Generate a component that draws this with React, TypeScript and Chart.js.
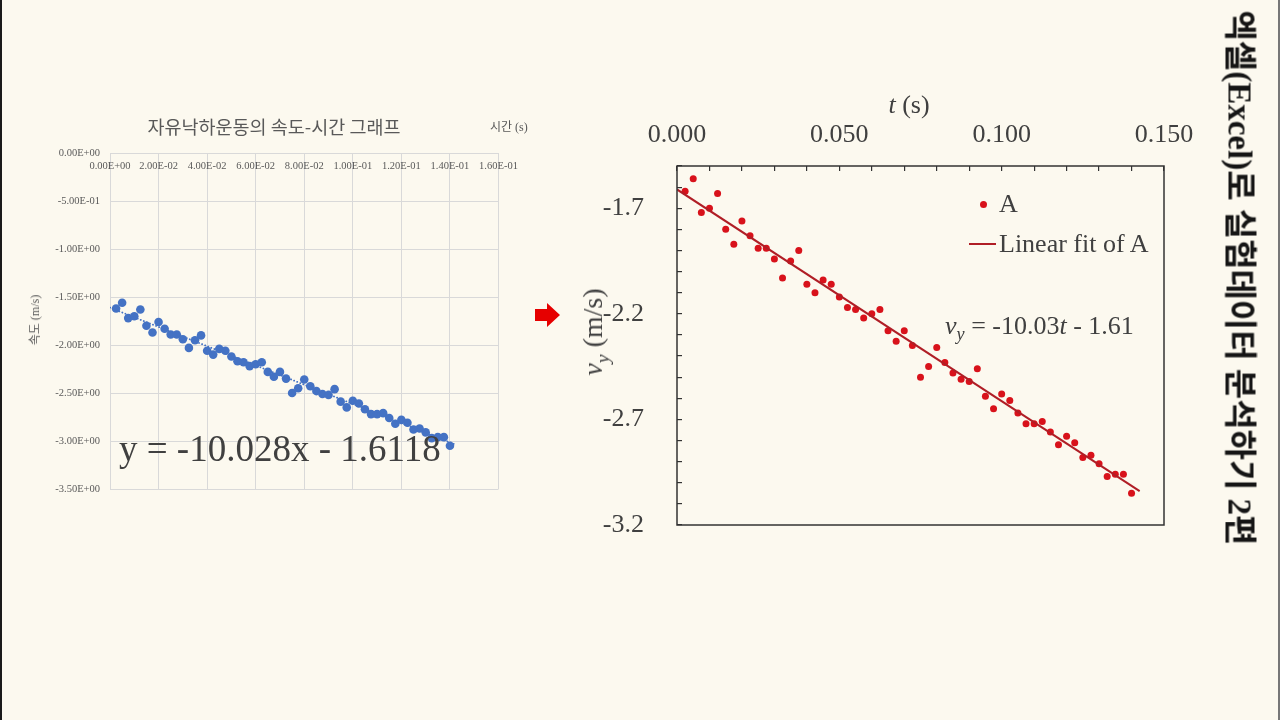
import React, { useEffect, useRef } from 'react';
import { Chart, registerables } from 'chart.js';

Chart.register(...registerables);

// ---- data ----
const timeValues = [
  0.0025, 0.005, 0.0075, 0.01, 0.0125, 0.015, 0.0175, 0.02, 0.0225, 0.025,
  0.0275, 0.03, 0.0325, 0.035, 0.0375, 0.04, 0.0425, 0.045, 0.0475, 0.05,
  0.0525, 0.055, 0.0575, 0.06, 0.0625, 0.065, 0.0675, 0.07, 0.0725, 0.075,
  0.0775, 0.08, 0.0825, 0.085, 0.0875, 0.09, 0.0925, 0.095, 0.0975, 0.1,
  0.1025, 0.105, 0.1075, 0.11, 0.1125, 0.115, 0.1175, 0.12, 0.1225, 0.125,
  0.1275, 0.13, 0.1325, 0.135, 0.1375, 0.14,
];
const velocityValues = [
  -1.62, -1.56, -1.72, -1.70, -1.63, -1.80, -1.87, -1.76, -1.83, -1.89,
  -1.89, -1.94, -2.03, -1.95, -1.90, -2.06, -2.10, -2.04, -2.06, -2.12,
  -2.17, -2.18, -2.22, -2.20, -2.18, -2.28, -2.33, -2.28, -2.35, -2.50,
  -2.45, -2.36, -2.43, -2.48, -2.51, -2.52, -2.46, -2.59, -2.65, -2.58,
  -2.61, -2.67, -2.72, -2.72, -2.71, -2.76, -2.82, -2.78, -2.81, -2.88,
  -2.87, -2.91, -2.97, -2.96, -2.96, -3.05,
];
// fitted line end points
const fitTimes = [0, 0.1425];
const fitVelocities = [-1.611, -3.040];

// ---- tick values ----
const excelXTicks = [0, 0.02, 0.04, 0.06, 0.08, 0.1, 0.12, 0.14, 0.16];
const excelYTicks = [0, -0.5, -1, -1.5, -2, -2.5, -3, -3.5];
const originXTicks = [0, 0.01, 0.02, 0.03, 0.04, 0.05, 0.06, 0.07, 0.08, 0.09, 0.1, 0.11, 0.12, 0.13, 0.14, 0.15];
const originXLabels = [0, 0.05, 0.1, 0.15];
const originYTicks = [-3.2, -3.1, -3.0, -2.9, -2.8, -2.7, -2.6, -2.5, -2.4, -2.3, -2.2, -2.1, -2.0, -1.9, -1.8, -1.7, -1.6, -1.5];
const originYLabels = [-3.2, -2.7, -2.2, -1.7];

const SERIF = "'Liberation Serif', 'Times New Roman', serif";
const KR = "'Liberation Serif', 'Noto Sans CJK KR', sans-serif";

function toExcelE(v: number): string {
  const s = (Math.abs(v) < 1e-12 ? 0 : v).toExponential(2);
  const [m, e] = s.split('e');
  const n = parseInt(e, 10);
  return `${m}E${n < 0 ? '-' : '+'}${String(Math.abs(n)).padStart(2, '0')}`;
}

const setTicks = (arr: number[]) => (scale: any) => {
  scale.ticks = arr.map((v) => ({ value: v }));
};
const isIn = (arr: number[], v: number) => arr.some((a) => Math.abs(a - v) < 1e-9);

const points = () => timeValues.map((t, i) => ({ x: t, y: velocityValues[i] }));
const fitPoints = () => fitTimes.map((t, i) => ({ x: t, y: fitVelocities[i] }));

function excelConfig(): any {
  return {
    type: 'scatter',
    data: {
      datasets: [
        {
          data: points(),
          backgroundColor: '#4472C4',
          borderColor: '#4472C4',
          pointRadius: 4.3,
          pointBorderWidth: 0,
          order: 1,
        },
        {
          data: fitPoints(),
          showLine: true,
          borderColor: '#4472C4',
          borderWidth: 1.8,
          borderDash: [0.1, 3.2],
          borderCapStyle: 'round',
          pointRadius: 0,
          order: 0,
        },
      ],
    },
    options: {
      animation: false,
      responsive: false,
      maintainAspectRatio: false,
      layout: { padding: { left: 0, top: 53, right: 43.5, bottom: 21 } },
      plugins: { legend: { display: false }, tooltip: { enabled: false }, title: { display: false } },
      scales: {
        x: {
          type: 'linear',
          position: 'top',
          min: 0,
          max: 0.16,
          afterBuildTicks: setTicks(excelXTicks),
          grid: { color: '#D9D9D9', lineWidth: 1, drawTicks: false },
          border: { display: false },
          ticks: {
            autoSkip: false,
            maxRotation: 0,
            minRotation: 0,
            mirror: true,
            padding: 7.4,
            color: '#595959',
            font: { family: SERIF, size: 10.5 },
            callback: (v: number) => toExcelE(v),
          },
          afterFit: (s: any) => {
            s.height = 0;
            s.paddingLeft = 0;
            s.paddingRight = 0;
          },
        },
        y: {
          type: 'linear',
          min: -3.5,
          max: 0,
          afterBuildTicks: setTicks(excelYTicks),
          grid: { color: '#D9D9D9', lineWidth: 1, drawTicks: false },
          border: { display: false },
          ticks: {
            autoSkip: false,
            padding: 10,
            color: '#595959',
            font: { family: SERIF, size: 10.5 },
            callback: (v: number) => toExcelE(v),
          },
          afterFit: (s: any) => {
            s.width = 98;
            s.paddingTop = 0;
            s.paddingBottom = 0;
          },
        },
      },
    },
  };
}

const framePlugin = {
  id: 'frame',
  afterDraw(chart: any) {
    const { ctx, chartArea } = chart;
    const { left, top, right, bottom } = chartArea;
    ctx.save();
    ctx.strokeStyle = '#333333';
    ctx.lineWidth = 1.5;
    ctx.strokeRect(left, top, right - left, bottom - top);
    ctx.restore();
  },
};

function originConfig(): any {
  return {
    type: 'scatter',
    data: {
      datasets: [
        {
          data: points(),
          backgroundColor: '#D8121B',
          borderColor: '#D8121B',
          pointRadius: 3.5,
          pointBorderWidth: 0,
          order: 1,
        },
        {
          data: fitPoints(),
          showLine: true,
          borderColor: '#B01E26',
          borderWidth: 2,
          pointRadius: 0,
          order: 0,
        },
      ],
    },
    plugins: [framePlugin],
    options: {
      animation: false,
      responsive: false,
      maintainAspectRatio: false,
      layout: { padding: { left: 0, top: 0, right: 58, bottom: 20 } },
      plugins: { legend: { display: false }, tooltip: { enabled: false }, title: { display: false } },
      scales: {
        x: {
          type: 'linear',
          position: 'top',
          min: 0,
          max: 0.15,
          afterBuildTicks: setTicks(originXTicks),
          grid: { drawOnChartArea: false, drawTicks: true, tickLength: -5, color: '#333333', lineWidth: 1.2 },
          border: { display: false },
          ticks: {
            autoSkip: false,
            maxRotation: 0,
            minRotation: 0,
            padding: 20,
            color: '#404040',
            font: { family: SERIF, size: 26 },
            callback: (v: number) => (isIn(originXLabels, v) ? v.toFixed(3) : ''),
          },
          afterFit: (s: any) => {
            s.height = 81;
            s.paddingLeft = 0;
            s.paddingRight = 0;
          },
        },
        y: {
          type: 'linear',
          min: -3.2,
          max: -1.5,
          afterBuildTicks: setTicks(originYTicks),
          grid: { drawOnChartArea: false, drawTicks: true, tickLength: -5, color: '#333333', lineWidth: 1.2 },
          border: { display: false },
          ticks: {
            autoSkip: false,
            padding: 38,
            color: '#404040',
            font: { family: SERIF, size: 26 },
            callback: (v: number) => (isIn(originYLabels, v) ? v.toFixed(1) : ''),
          },
          afterFit: (s: any) => {
            s.width = 95;
            s.paddingTop = 0;
            s.paddingBottom = 0;
          },
        },
      },
    },
  };
}

const abs = (left: number, top: number, extra: React.CSSProperties = {}): React.CSSProperties => ({
  position: 'absolute',
  left,
  top,
  whiteSpace: 'nowrap',
  lineHeight: 1,
  ...extra,
});

export default function App() {
  const leftRef = useRef<HTMLCanvasElement>(null);
  const rightRef = useRef<HTMLCanvasElement>(null);

  useEffect(() => {
    const charts: Chart[] = [];
    if (leftRef.current) charts.push(new Chart(leftRef.current, excelConfig()));
    if (rightRef.current) charts.push(new Chart(rightRef.current, originConfig()));
    return () => charts.forEach((c) => c.destroy());
  }, []);

  const sub: React.CSSProperties = { fontSize: '0.7em', position: 'relative', top: '0.35em', fontStyle: 'italic' };

  return (
    <div
      style={{
        position: 'fixed',
        left: 0,
        top: 0,
        width: 1280,
        height: 720,
        boxSizing: 'border-box',
        background: '#FCF9EF',
        borderLeft: '2px solid #1a1a1a',
        borderRight: '2px solid #777',
        overflow: 'hidden',
        fontFamily: SERIF,
      }}
    >
      {/* Excel-style chart */}
      <canvas ref={leftRef} width={530} height={410} style={abs(10, 100, { width: 530, height: 410 })} />
      <div style={abs(272, 126, { transform: 'translate(-50%,-50%)', fontFamily: "'Noto Sans CJK KR', sans-serif", fontSize: 18.5, color: '#595959' })}>
        자유낙하운동의 속도-시간 그래프
      </div>
      <div style={abs(488, 127, { transform: 'translateY(-50%)', fontFamily: KR, fontSize: 12, color: '#595959' })}>시간 (s)</div>
      <div style={abs(33, 320, { transform: 'translate(-50%,-50%) rotate(-90deg)', fontFamily: KR, fontSize: 12, color: '#595959' })}>속도 (m/s)</div>
      <div style={abs(117, 448, { transform: 'translateY(-50%)', fontSize: 37, color: '#404040' })}>y = -10.028x - 1.6118</div>

      {/* arrow */}
      <svg style={abs(530, 300, { width: 32, height: 30 })} width={32} height={30} viewBox="0 0 32 30">
        <polygon points="3,9 15,9 15,3 28,15 15,27 15,21 3,21" fill="#E60000" />
      </svg>

      {/* Origin-style chart */}
      <canvas ref={rightRef} width={640} height={460} style={abs(580, 85, { width: 640, height: 460 })} />
      <div style={abs(907, 105, { transform: 'translate(-50%,-50%)', fontSize: 26, color: '#404040' })}>
        <i>t</i> (s)
      </div>
      <div style={abs(591, 332, { transform: 'translate(-50%,-50%) rotate(-90deg)', fontSize: 28, color: '#404040' })}>
        <i>v</i>
        <span style={sub}>y</span> (m/s)
      </div>
      {/* legend */}
      <div style={abs(977.5, 200.5, { width: 7, height: 7, borderRadius: '50%', background: '#D8121B' })} />
      <div style={abs(997, 204, { transform: 'translateY(-50%)', fontSize: 26, color: '#404040' })}>A</div>
      <div style={abs(967, 243, { width: 27, height: 2, background: '#B01E26' })} />
      <div style={abs(997, 244, { transform: 'translateY(-50%)', fontSize: 26, color: '#404040' })}>Linear fit of A</div>
      <div style={abs(943, 326, { transform: 'translateY(-50%)', fontSize: 26, color: '#404040' })}>
        <i>v</i>
        <span style={sub}>y</span> = -10.03<i>t</i> - 1.61
      </div>

      {/* vertical caption */}
      <div
        style={abs(1237, 278, {
          transform: 'translate(-50%,-50%) rotate(90deg)',
          fontFamily: KR,
          fontWeight: 'bold',
          fontSize: 33,
          color: '#151515',
        })}
      >
        엑셀(Excel)로 실험데이터 분석하기 2편
      </div>
    </div>
  );
}
